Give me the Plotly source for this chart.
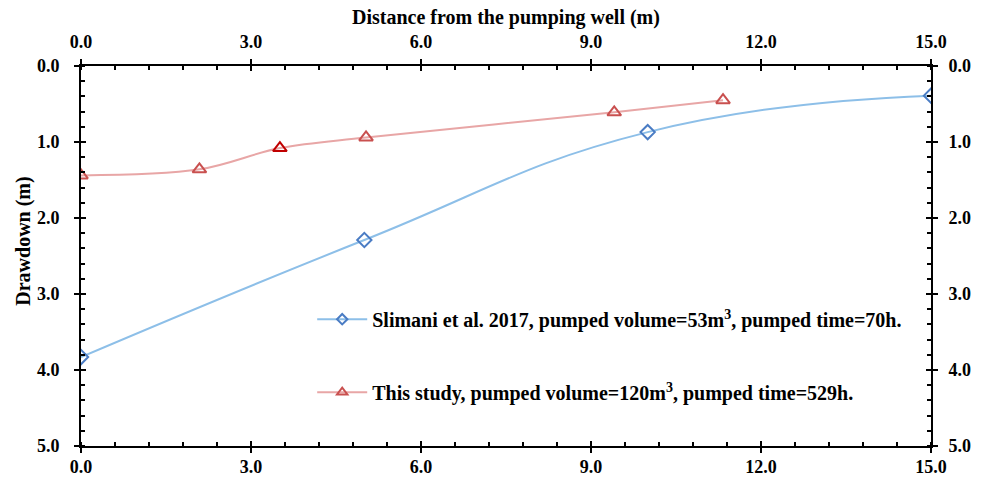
import plotly.graph_objects as go

# Drawdown profiles versus distance from the pumping well
slimani_dist = [0.0, 5.0, 10.0, 15.0]
slimani_drawdown = [3.83, 2.29, 0.87, 0.39]

study_dist = [0.0, 2.09, 3.51, 5.03, 9.41, 11.33]
study_drawdown = [1.44, 1.36, 1.08, 0.94, 0.61, 0.45]

slimani_name = "Slimani et al. 2017, pumped volume=53m<sup>3</sup>, pumped time=70h."
study_name = "This study, pumped volume=120m<sup>3</sup>, pumped time=529h."

x_ticks = [0, 3, 6, 9, 12, 15]
y_ticks = [0, 1, 2, 3, 4, 5]

FONT = "Liberation Serif"
tick_font = dict(family=FONT, size=18, color="black", weight="bold")
title_font = dict(family=FONT, size=20, color="black", weight="bold")

BLUE_LINE, BLUE_MARK = "#8DBFE8", "#4A7CC4"
RED_LINE, RED_MARK = "#E8A6A6", "#C9504F"

fig = go.Figure()

fig.add_trace(go.Scatter(
    x=slimani_dist, y=slimani_drawdown, showlegend=False,
    mode="lines+markers", line=dict(color=BLUE_LINE, width=2, shape="spline", smoothing=1.3),
    marker=dict(symbol="diamond-open", size=11, color=BLUE_MARK, line=dict(width=2, color=BLUE_MARK)),
    xaxis="x", yaxis="y",
))

study_marker_colors = [RED_MARK, RED_MARK, "#C00000", RED_MARK, RED_MARK, RED_MARK]
fig.add_trace(go.Scatter(
    x=study_dist, y=study_drawdown, showlegend=False,
    mode="lines+markers", line=dict(color=RED_LINE, width=2, shape="spline", smoothing=1.0),
    marker=dict(symbol="triangle-up-open", size=12, color=study_marker_colors,
                line=dict(width=2, color=study_marker_colors)),
    xaxis="x", yaxis="y",
))

# Legend entries (smaller symbols than the plotted markers)
fig.add_trace(go.Scatter(
    x=[None], y=[None], name=slimani_name, mode="lines+markers", legendgroup="a",
    line=dict(color=BLUE_LINE, width=2),
    marker=dict(symbol="diamond-open", size=8, color=BLUE_MARK, line=dict(width=2, color=BLUE_MARK)),
    xaxis="x", yaxis="y",
))
fig.add_trace(go.Scatter(
    x=[None], y=[None], name=study_name, mode="lines+markers", legendgroup="b",
    line=dict(color=RED_LINE, width=2),
    marker=dict(symbol="triangle-up-open", size=9, color=RED_MARK, line=dict(width=2, color=RED_MARK)),
    xaxis="x", yaxis="y",
))

common_x = dict(range=[0, 15], tickvals=x_ticks, tickformat=".1f", showgrid=False, zeroline=False,
                fixedrange=True, automargin=False)
common_y = dict(range=[5, 0], tickvals=y_ticks, tickformat=".1f", showgrid=False, zeroline=False,
                fixedrange=True, automargin=False)
minor_x = dict(dtick=0.6, tick0=0, ticks="inside", ticklen=4, tickwidth=1.5, tickcolor="black")
minor_y = dict(dtick=0.2, tick0=0, ticks="inside", ticklen=4, tickwidth=1.5, tickcolor="black")
major_out = dict(ticks="outside", ticklen=5, tickwidth=2, tickcolor="black", tickfont=tick_font,
                 showline=True, linewidth=2, linecolor="black")
major_in = dict(ticks="inside", ticklen=5, tickwidth=2, tickcolor="black", showticklabels=False,
                showline=False)

# Major ticks cross the axis line: outer half with labels, inner half on an overlay axis
fig.update_layout(
    xaxis=dict(**common_x, **major_out, side="bottom", anchor="y", minor=minor_x, ticklabelstandoff=-2),
    xaxis2=dict(**common_x, **major_out, side="top", anchor="y", overlaying="x", minor=minor_x,
                ticklabelstandoff=4),
    xaxis3=dict(**common_x, **major_in, side="bottom", anchor="y", overlaying="x"),
    xaxis4=dict(**common_x, **major_in, side="top", anchor="y", overlaying="x"),
    yaxis=dict(**common_y, **major_out, side="left", anchor="x", minor=minor_y, ticklabelstandoff=11),
    yaxis2=dict(**common_y, **major_out, side="right", anchor="x", overlaying="y", minor=minor_y,
                ticklabelstandoff=7),
    yaxis3=dict(**common_y, **major_in, side="left", anchor="x", overlaying="y"),
    yaxis4=dict(**common_y, **major_in, side="right", anchor="x", overlaying="y"),
)

# Invisible helpers so every overlay axis is attached to a subplot
for xa, ya in [("x2", "y2"), ("x3", "y3"), ("x4", "y4")]:
    fig.add_trace(go.Scatter(x=[None], y=[None], xaxis=xa, yaxis=ya, showlegend=False,
                             hoverinfo="skip"))

fig.update_layout(
    annotations=[
        dict(text="Distance from the pumping well (m)", xref="paper", yref="paper",
             x=0.5, y=1.128, xanchor="center", yanchor="middle", showarrow=False, font=title_font),
        dict(text="Drawdown (m)", xref="paper", yref="paper", x=-0.068, y=0.538,
             xanchor="center", yanchor="middle", textangle=-90, showarrow=False, font=title_font),
    ],
    width=984, height=477,
    margin=dict(l=81, r=53, t=66, b=31),
    paper_bgcolor="white", plot_bgcolor="white",
    font=dict(family=FONT, color="black"),
    showlegend=True,
    legend=dict(x=0.272, y=0.385, xanchor="left", yanchor="top", bgcolor="rgba(0,0,0,0)",
                font=dict(family=FONT, size=20, color="black", weight="bold"),
                tracegroupgap=44, itemwidth=50),
)

fig.write_html("out.html")
